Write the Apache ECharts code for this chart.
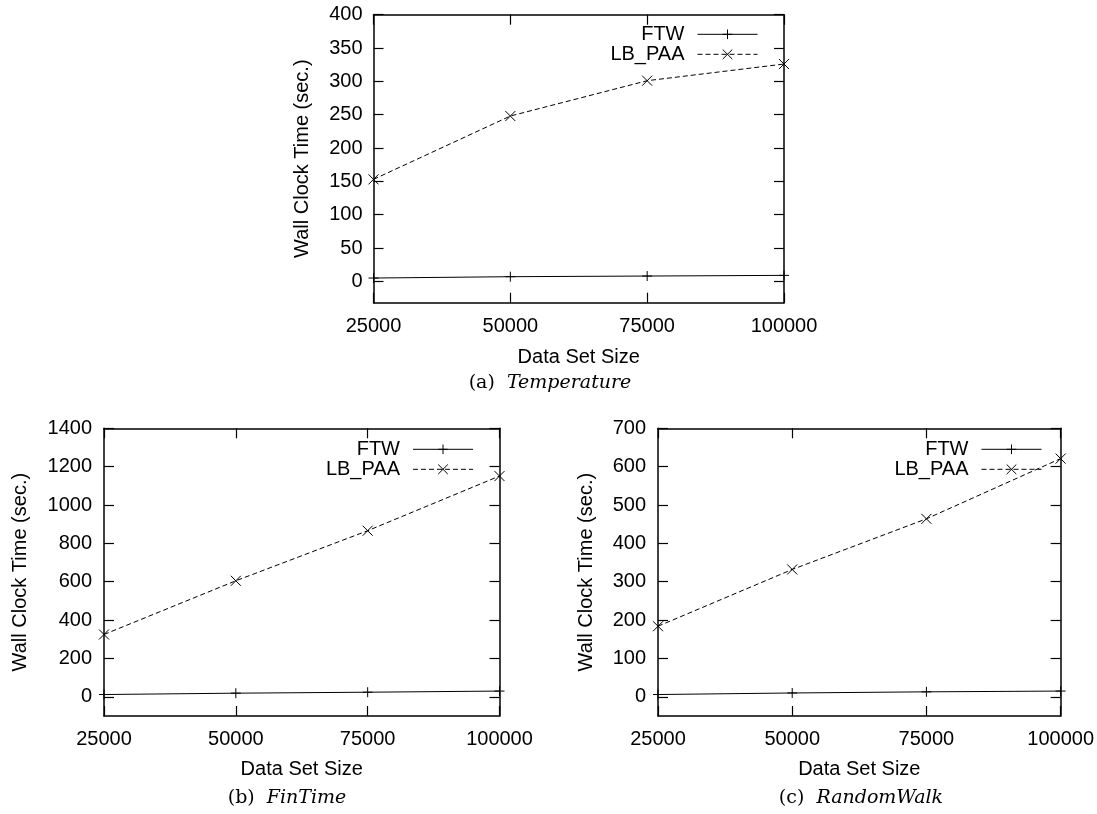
<!DOCTYPE html>
<html><head><meta charset="utf-8">
<script src="https://cdn.jsdelivr.net/npm/echarts@6/dist/echarts.min.js"></script>
<style>html,body{margin:0;padding:0;background:#fff}#c{width:1097px;height:814px}</style>
</head><body><div id="c"></div>
<script>
// ---- data ----
const sizes = [25000, 50000, 75000, 100000];
const tempFTW = [5, 7, 8, 9];
const tempLB = [153, 248, 301, 326];
const finFTW = [12, 19, 24, 30];
const finLB = [325, 605, 866, 1151];
const rwFTW = [6, 10, 13, 15];
const rwLB = [184, 332, 464, 621];
const tempYTicks = [0, 50, 100, 150, 200, 250, 300, 350, 400];
const finYTicks = [0, 200, 400, 600, 800, 1000, 1200, 1400];
const rwYTicks = [0, 100, 200, 300, 400, 500, 600, 700];
const seriesNames = ['FTW', 'LB_PAA'];
const captionTags = ['(a)', '(b)', '(c)'];
const captionNames = ['Temperature', 'FinTime', 'RandomWalk'];
const xTitle = 'Data Set Size';
const yTitle = 'Wall Clock Time (sec.)';

// ---- layout ----
const panels = [
  {grid: {left: 373.5, right: 313, top: 14.7, bottom: 511.3}, ymin: -32, ymax: 400, ticks: tempYTicks,
   ftw: tempFTW, lb: tempLB, nameGap: 61, lm: 11, xm: 14, xg: 45, legend: {right: 339, top: 24.3}, cap: [550, 383]},
  {grid: {left: 104, right: 597.5, top: 428.3, bottom: 98}, ymin: -100, ymax: 1400, ticks: finYTicks,
   ftw: finFTW, lb: finLB, nameGap: 74, lm: 12, xm: 13, xg: 43, legend: {right: 623.5, top: 439.3}, cap: [287, 798]},
  {grid: {left: 658, right: 28.2, top: 428.3, bottom: 98}, ymin: -50, ymax: 700, ticks: rwYTicks,
   ftw: rwFTW, lb: rwLB, nameGap: 62, lm: 12, xm: 13, xg: 43, legend: {right: 55, top: 439.3}, cap: [861, 798]}
];

const SANS = '"Liberation Sans", Arial, Helvetica, sans-serif';
const FS = 20;
const black = '#000';
const plusPath = 'path://M0,5L10,5M5,0L5,10';
const crossPath = 'path://M0,0L10,10M10,0L0,10';
const plain = v => String(v);

const grids = [], xAxes = [], yAxes = [], series = [], legends = [], graphics = [];
panels.forEach((p, i) => {
  grids.push(Object.assign({containLabel: false}, p.grid));
  const axLine = {show: true, onZero: false, lineStyle: {color: black, width: 1.5}};
  const tick = {show: true, inside: true, length: 10, lineStyle: {color: black, width: 1.2}};
  xAxes.push({
    type: 'value', gridIndex: i, position: 'bottom', min: 25000, max: 100000, interval: 25000,
    axisLine: axLine, axisTick: tick, splitLine: {show: false},
    axisLabel: {color: black, fontSize: FS, fontFamily: SANS, margin: p.xm, formatter: plain},
    name: xTitle, nameLocation: 'middle', nameGap: p.xg,
    nameTextStyle: {color: black, fontSize: FS, fontFamily: SANS}
  });
  xAxes.push({
    type: 'value', gridIndex: i, position: 'top', min: 25000, max: 100000, interval: 25000,
    axisLine: axLine, axisTick: tick, splitLine: {show: false}, axisLabel: {show: false}
  });
  yAxes.push({
    type: 'value', gridIndex: i, position: 'left', min: p.ymin, max: p.ymax,
    axisLine: axLine, axisTick: Object.assign({customValues: p.ticks}, tick), splitLine: {show: false},
    axisLabel: {customValues: p.ticks, color: black, fontSize: FS, fontFamily: SANS, margin: p.lm, formatter: plain},
    name: yTitle, nameLocation: 'middle', nameGap: p.nameGap,
    nameTextStyle: {color: black, fontSize: FS, fontFamily: SANS}
  });
  yAxes.push({
    type: 'value', gridIndex: i, position: 'right', min: p.ymin, max: p.ymax,
    axisLine: axLine, axisTick: Object.assign({customValues: p.ticks}, tick), splitLine: {show: false},
    axisLabel: {show: false}
  });
  const xi = i * 2, yi = i * 2;
  series.push({
    type: 'line', name: seriesNames[0], xAxisIndex: xi, yAxisIndex: yi,
    data: sizes.map((s, k) => [s, p.ftw[k]]),
    symbol: plusPath, symbolSize: 10, showAllSymbol: true,
    lineStyle: {color: black, width: 1, type: 'solid'},
    itemStyle: {color: black, borderColor: black, borderWidth: 1},
    emphasis: {disabled: true}, animation: false, clip: false
  });
  series.push({
    type: 'line', name: seriesNames[1], xAxisIndex: xi, yAxisIndex: yi,
    data: sizes.map((s, k) => [s, p.lb[k]]),
    symbol: crossPath, symbolSize: 10, showAllSymbol: true,
    lineStyle: {color: black, width: 1, type: [5, 3]},
    itemStyle: {color: black, borderColor: black, borderWidth: 1},
    emphasis: {disabled: true}, animation: false, clip: false
  });
  legends.push({
    data: seriesNames, orient: 'vertical', align: 'right', right: p.legend.right, top: p.legend.top,
    padding: 0, itemGap: 0, itemWidth: 60, itemHeight: 12, selectedMode: false,
    itemStyle: {borderWidth: 1, borderColor: black, color: black},
    lineStyle: {width: 1},
    textStyle: {color: black, fontSize: FS, fontFamily: SANS, padding: [0, 8, 0, 0]}
  });
  graphics.push({
    type: 'text', x: p.cap[0], y: p.cap[1],
    style: {
      text: captionTags[i] + '  {i|' + captionNames[i] + '}',
      fontSize: 19, fontFamily: '"DejaVu Serif", serif', fill: black,
      align: 'center', verticalAlign: 'middle',
      rich: {i: {fontStyle: 'italic', fontSize: 19, fontFamily: '"DejaVu Serif", serif', fill: black}}
    }
  });
});

const chart = echarts.init(document.getElementById('c'), null, {renderer: 'canvas'});
chart.setOption({
  animation: false, backgroundColor: '#fff',
  grid: grids, xAxis: xAxes, yAxis: yAxes, series: series, legend: legends, graphic: graphics
});
</script></body></html>
